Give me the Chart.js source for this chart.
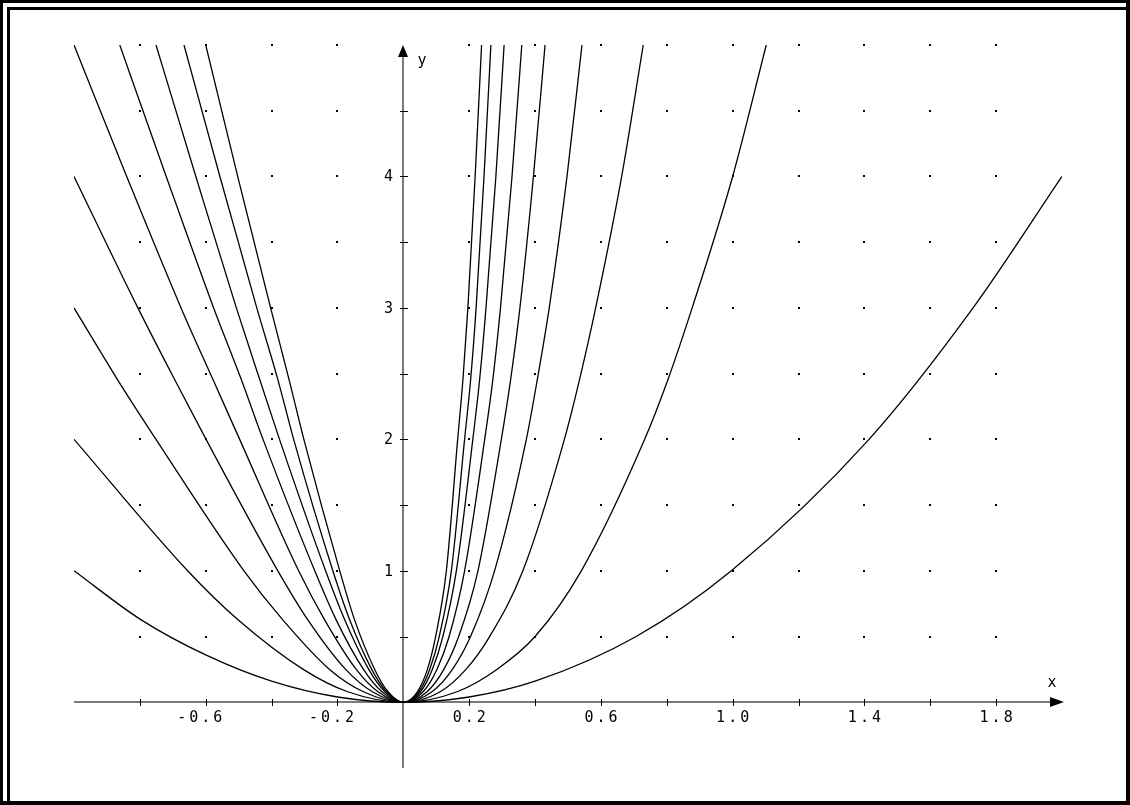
<!DOCTYPE html>
<html>
<head>
<meta charset="utf-8">
<script src="https://cdn.jsdelivr.net/npm/chart.js@4/dist/chart.umd.min.js"></script>
<style>
  html, body { margin: 0; padding: 0; background: #fff; }
  #wrap { position: relative; width: 1130px; height: 805px; }
</style>
</head>
<body>
<div id="wrap"><canvas id="myChart" width="1130" height="805"></canvas></div>
<script>
// curves as [x, y]
const curve1 = [[-1, 1], [-0.796, 0.627], [-0.6, 0.36], [-0.4, 0.16], [-0.2, 0.04], [0, 0], [0.2, 0.04], [0.4, 0.16], [0.707, 0.5], [0.996, 1], [1.414, 2], [1.73, 3], [2, 4]];
const curve2 = [[-1, 2], [-0.655, 1], [-0.502, 0.627], [-0.304, 0.25], [-0.169, 0.08], [0, 0], [0.163, 0.08], [0.284, 0.25], [0.4, 0.5], [0.5405, 1], [0.7328, 2], [0.8035, 2.455], [0.877, 3], [1.0, 4], [1.102, 5]];
const curve3 = [[-1, 3], [-0.868, 2.455], [-0.751, 2], [-0.484, 1], [-0.366, 0.627], [-0.224, 0.25], [-0.121, 0.08], [0, 0], [0.112, 0.08], [0.19, 0.25], [0.262, 0.5], [0.363, 1], [0.489, 2], [0.535, 2.455], [0.584, 3], [0.663, 4], [0.7285, 5]];
const curve4 = [[-1, 4], [-0.806, 3], [-0.6945, 2.455], [-0.599, 2], [-0.381, 1], [-0.29, 0.627], [-0.175, 0.25], [-0.094, 0.08], [0, 0], [0.087, 0.08], [0.149, 0.25], [0.204, 0.5], [0.277, 1], [0.3735, 2], [0.4068, 2.455], [0.443, 3], [0.497, 4], [0.5424, 5]];
const curve5 = [[-1, 5], [-0.84, 4], [-0.675, 3], [-0.578, 2.455], [-0.497, 2], [-0.318, 1], [-0.239, 0.627], [-0.143, 0.25], [-0.077, 0.08], [0, 0], [0.072, 0.08], [0.123, 0.25], [0.168, 0.5], [0.2266, 1], [0.2976, 2], [0.3258, 2.455], [0.354, 3], [0.395, 4], [0.4303, 5]];
const curve6 = [[-0.861, 5], [-0.72, 4], [-0.576, 3], [-0.492, 2.455], [-0.426, 2], [-0.269, 1], [-0.204, 0.627], [-0.121, 0.25], [-0.065, 0.08], [0, 0], [0.06, 0.08], [0.102, 0.25], [0.139, 0.5], [0.186, 1], [0.247, 2], [0.2718, 2.455], [0.295, 3], [0.33, 4], [0.3597, 5]];
const curve7 = [[-0.751, 5], [-0.63, 4], [-0.507, 3], [-0.436, 2.455], [-0.376, 2], [-0.236, 1], [-0.178, 0.627], [-0.105, 0.25], [-0.056, 0.08], [0, 0], [0.052, 0.08], [0.088, 0.25], [0.12, 0.5], [0.161, 1], [0.211, 2], [0.2317, 2.455], [0.251, 3], [0.281, 4], [0.306, 5]];
const curve8 = [[-0.666, 5], [-0.557, 4], [-0.445, 3], [-0.381, 2.455], [-0.333, 2], [-0.214, 1], [-0.163, 0.627], [-0.096, 0.25], [-0.051, 0.08], [0, 0], [0.047, 0.08], [0.08, 0.25], [0.109, 0.5], [0.1458, 1], [0.186, 2], [0.2044, 2.455], [0.221, 3], [0.245, 4], [0.2658, 5]];
const curve9 = [[-0.6, 5], [-0.503, 4], [-0.403, 3], [-0.347, 2.455], [-0.302, 2], [-0.193, 1], [-0.148, 0.627], [-0.087, 0.25], [-0.0465, 0.08], [0, 0], [0.0426, 0.08], [0.073, 0.25], [0.098, 0.5], [0.1306, 1], [0.165, 2], [0.181, 2.455], [0.196, 3], [0.218, 4], [0.2376, 5]];
const curves = [curve1, curve2, curve3, curve4, curve5, curve6, curve7, curve8, curve9];

// axis ticks / labels
const xTickMarks = [-0.8, -0.6, -0.4, -0.2, 0.2, 0.4, 0.6, 0.8, 1.0, 1.2, 1.4, 1.6, 1.8];
const xTickValues = [-0.6, -0.2, 0.2, 0.6, 1.0, 1.4, 1.8];
const xTickLabels = ['-0.6', '-0.2', '0.2', '0.6', '1.0', '1.4', '1.8'];
const yTickMarks = [0.5, 1, 1.5, 2, 2.5, 3, 3.5, 4, 4.5];
const yTickValues = [1, 2, 3, 4];
const yTickLabels = ['1', '2', '3', '4'];
const dotXs = [-0.8, -0.6, -0.4, -0.2, 0.2, 0.4, 0.6, 0.8, 1.0, 1.2, 1.4, 1.6, 1.8];
const dotYs = [0.5, 1, 1.5, 2, 2.5, 3, 3.5, 4, 4.5, 5];

const FONT = '15px "DejaVu Sans Mono", monospace';

const deriveAxes = {
  id: 'deriveAxes',
  beforeDatasetsDraw(chart) {
    const { ctx, scales: { x, y } } = chart;
    const X = v => x.getPixelForValue(v);
    const Y = v => y.getPixelForValue(v);
    const x0 = Math.round(X(0)), y0 = Math.round(Y(0));
    ctx.save();

    // grid dots
    ctx.fillStyle = '#000';
    dotXs.forEach(gx => dotYs.forEach(gy => {
      ctx.fillRect(Math.round(X(gx)) - 1, Math.round(Y(gy)) - 1, 2, 2);
    }));

    // axes
    ctx.strokeStyle = '#7a7a7a';
    ctx.lineWidth = 2;
    ctx.beginPath();
    ctx.moveTo(X(-1), y0); ctx.lineTo(X(2) - 4, y0);
    ctx.moveTo(x0, Y(-0.5)); ctx.lineTo(x0, Y(5) + 6);
    ctx.stroke();

    // tick marks
    ctx.strokeStyle = '#000';
    ctx.lineWidth = 1;
    ctx.beginPath();
    xTickMarks.forEach(v => { const p = Math.round(X(v)) + 0.5; ctx.moveTo(p, y0 - 3); ctx.lineTo(p, y0 + 4); });
    yTickMarks.forEach(v => { const p = Math.round(Y(v)) + 0.5; ctx.moveTo(x0 - 3, p); ctx.lineTo(x0 + 5, p); });
    ctx.stroke();

    // arrows
    ctx.fillStyle = '#000';
    ctx.beginPath();
    ctx.moveTo(X(2) + 2, y0); ctx.lineTo(X(2) - 12, y0 - 5); ctx.lineTo(X(2) - 12, y0 + 5); ctx.closePath();
    ctx.fill();
    ctx.beginPath();
    ctx.moveTo(x0, Y(5)); ctx.lineTo(x0 - 5, Y(5) + 12); ctx.lineTo(x0 + 5, Y(5) + 12); ctx.closePath();
    ctx.fill();

    // tick labels
    ctx.font = FONT;
    ctx.letterSpacing = '3px';
    ctx.fillStyle = '#000';
    ctx.textBaseline = 'middle';
    xTickValues.forEach((v, i) => {
      const s = xTickLabels[i];
      const w = ctx.measureText(s.replace('-', '')).width;
      ctx.textAlign = 'right';
      ctx.fillText(s, X(v) + w / 2 + 1.5, y0 + 16);
    });
    ctx.letterSpacing = '0px';
    ctx.textAlign = 'right';
    yTickValues.forEach((v, i) => ctx.fillText(yTickLabels[i], x0 - 10, Y(v) + 1));

    // axis names
    ctx.textAlign = 'center';
    ctx.fillText('x', X(2) - 10, y0 - 19);
    ctx.fillText('y', x0 + 19, Y(5) + 16);
    ctx.restore();
  },
  afterDraw(chart) {
    const ctx = chart.ctx;
    ctx.save();
    ctx.fillStyle = '#000';
    ctx.fillRect(0, 0, 1130, 3);
    ctx.fillRect(0, 0, 3, 805);
    ctx.fillRect(7, 7, 1119, 3);
    ctx.fillRect(7, 7, 3, 794);
    ctx.fillRect(1126, 0, 4, 805);
    ctx.fillRect(0, 801, 1130, 4);
    ctx.restore();
  }
};

const data = {
  datasets: curves.map(c => ({
    data: c.map(p => ({ x: p[0], y: p[1] })),
    showLine: true,
    borderColor: '#000',
    borderWidth: 1.3,
    pointRadius: 0,
    cubicInterpolationMode: 'monotone'
  }))
};

const config = {
  type: 'scatter',
  data: data,
  options: {
    responsive: false,
    animation: false,
    layout: { padding: { left: 74, right: 68, top: 45, bottom: 37 } },
    plugins: { legend: { display: false }, tooltip: { enabled: false } },
    scales: {
      x: { type: 'linear', min: -1, max: 2, display: false },
      y: { type: 'linear', min: -0.5, max: 5, display: false }
    }
  },
  plugins: [deriveAxes]
};

const myChart = new Chart(document.getElementById('myChart'), config);
</script>
</body>
</html>
